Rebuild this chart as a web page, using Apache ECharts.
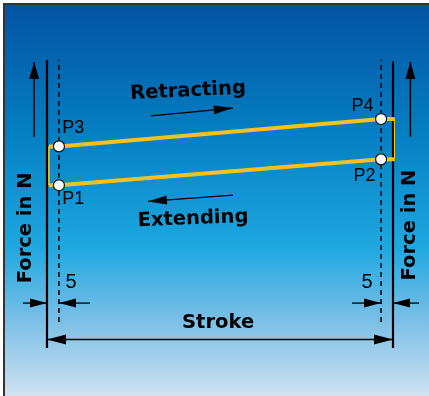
<!DOCTYPE html>
<html>
<head>
<meta charset="utf-8">
<script src="https://cdn.jsdelivr.net/npm/echarts@6/dist/echarts.min.js"></script>
<style>
  html, body { margin: 0; padding: 0; background: #fff; }
  #main { width: 429px; height: 396px; }
</style>
</head>
<body>
<div id="main"></div>
<script>
// switching points of the cycle (stroke position, force)
const pointNames = ["P1", "P2", "P3", "P4"];
const pointStroke = [5, 140, 5, 140];
const pointForce = [56.5, 65.5, 70, 79.5];
const strokeRange = [0, 145];
const forceRange = [0, 100];
const dimLabels = ["5", "5"];
const textLabels = { retract: "Retracting", extend: "Extending", stroke: "Stroke", force: "Force in N" };

const chart = echarts.init(document.getElementById("main"));

// small offsets so the yellow loop closes just outside the points
const stubL = strokeRange[0] + 0.8;
const stubR = strokeRange[1] + 0.7;
const yellow = "#f5c11e";

// label offsets (px) for P1..P4
const labelOffsets = [[15, 14], [-16, 17], [15, -18], [-18, -12]];

const points = pointNames.map(function (n, i) {
  return {
    name: n,
    value: [pointStroke[i], pointForce[i]],
    label: { position: [5.5 + labelOffsets[i][0], 5.5 + labelOffsets[i][1]] },
  };
});

chart.setOption({
  animation: false,
  backgroundColor: "#fff",
  grid: { left: 47, right: 36, top: 60, bottom: 48 },
  xAxis: { type: "value", min: strokeRange[0], max: strokeRange[1], show: false },
  yAxis: { type: "value", min: forceRange[0], max: forceRange[1], show: false },
  series: [
    {
      name: "Extending",
      type: "line",
      showSymbol: false,
      z: 3,
      lineStyle: { color: yellow, width: 4 },
      data: [[stubL, pointForce[0]], [pointStroke[0], pointForce[0]], [pointStroke[1], pointForce[1]], [stubR, pointForce[1]]],
    },
    {
      name: "Retracting",
      type: "line",
      showSymbol: false,
      z: 3,
      lineStyle: { color: yellow, width: 4 },
      data: [[stubL, pointForce[2]], [pointStroke[2], pointForce[2]], [pointStroke[3], pointForce[3]], [stubR, pointForce[3]]],
    },
    {
      name: "left",
      type: "line",
      showSymbol: false,
      z: 3,
      lineStyle: { color: yellow, width: 1.6 },
      data: [[stubL, pointForce[0]], [stubL, pointForce[2]]],
    },
    {
      name: "right",
      type: "line",
      showSymbol: false,
      z: 3,
      lineStyle: { color: yellow, width: 1.6 },
      data: [[stubR, pointForce[1]], [stubR, pointForce[3]]],
    },
    {
      name: "points",
      type: "scatter",
      z: 5,
      symbolSize: 11,
      itemStyle: { color: "#fff", borderColor: "#111", borderWidth: 1.2, opacity: 1 },
      label: {
        show: true,
        formatter: "{b}",
        color: "#000",
        fontSize: 18,
        fontFamily: "Liberation Sans",
        align: "center",
        verticalAlign: "middle",
      },
      data: points,
    },
  ],
});

function px(x, y) {
  return chart.convertToPixel({ gridIndex: 0 }, [x, y]);
}

function head(tip, from, len, hw) {
  const dx = tip[0] - from[0], dy = tip[1] - from[1];
  const d = Math.sqrt(dx * dx + dy * dy);
  const ux = dx / d, uy = dy / d;
  const bx = tip[0] - ux * len, by = tip[1] - uy * len;
  return {
    type: "polygon",
    shape: { points: [tip, [bx - uy * hw, by + ux * hw], [bx + uy * hw, by - ux * hw]] },
    style: { fill: "#000" },
  };
}

function arrow(a, b, len, hw, lw, both) {
  const p1 = px(a[0], a[1]), p2 = px(b[0], b[1]);
  const out = [
    { type: "line", shape: { x1: p1[0], y1: p1[1], x2: p2[0], y2: p2[1] }, style: { stroke: "#000", lineWidth: lw } },
    head(p2, p1, len, hw),
  ];
  if (both) out.push(head(p1, p2, len, hw));
  return out;
}

function vline(x, y0, y1, lw, dash) {
  const a = px(x, y0), b = px(x, y1);
  return {
    type: "line",
    shape: { x1: a[0], y1: a[1], x2: b[0], y2: b[1] },
    style: { stroke: "#000", lineWidth: lw, lineDash: dash || null },
  };
}

function text(str, x, y, font, rot) {
  const p = px(x, y);
  return {
    type: "text",
    x: p[0],
    y: p[1],
    rotation: rot || 0,
    style: {
      text: str,
      font: font,
      fill: "#000",
      align: "center",
      verticalAlign: "middle",
      textAlign: "center",
      textVerticalAlign: "middle",
    },
  };
}

const bold = 'bold 19.5px "DejaVu Sans"';
const thin = '20px "Liberation Sans"';

let g = [
  {
    type: "rect",
    z: -10,
    shape: { x: 5, y: 5, width: 424, height: 391 },
    style: {
      fill: new echarts.graphic.LinearGradient(0, 0, 0, 1, [
        { offset: 0, color: "#0453a3" },
        { offset: 0.33, color: "#047fc3" },
        { offset: 0.62, color: "#1ea8e0" },
        { offset: 0.8, color: "#78bee6" },
        { offset: 1, color: "#cfe2f1" },
      ]),
    },
  },
  {
    type: "polyline",
    z: -5,
    shape: { points: [[4, 396], [4, 4], [429, 4]] },
    style: { stroke: "#333", lineWidth: 2, fill: null },
  },
  vline(strokeRange[0], 0, 100, 2.2),
  vline(strokeRange[1], 0, 99.6, 2.2),
  vline(pointStroke[0], 9, 100, 1.5, [5, 4]),
  vline(pointStroke[1], 9, 100, 1.5, [5, 4]),
];

g = g.concat(
  arrow([-5.4, 73.3], [-5.4, 99.3], 17, 5, 1.4),
  arrow([152.3, 73.3], [152.3, 99.3], 17, 5, 1.4),
  arrow([43.6, 80.6], [77.9, 83.3], 19, 4.5, 1.3),
  arrow([77.9, 53.1], [42.3, 50.9], 19, 4.5, 1.3),
  arrow([-10.1, 15.6], [0, 15.6], 17, 4.5, 1.3),
  arrow([18, 15.6], [5, 15.6], 17, 4.5, 1.3),
  arrow([127.8, 15.6], [140, 15.6], 17, 4.5, 1.3),
  arrow([155.9, 15.6], [145, 15.6], 17, 4.5, 1.3),
  arrow([0, 2.95], [145, 2.95], 19, 5, 1.3, true),
  [
    text(textLabels.retract, 59.1, 89.2, bold, 0.05),
    text(textLabels.extend, 61.2, 44.8, bold, 0.04),
    text(textLabels.stroke, 71.7, 8.7, bold),
    text(textLabels.force, -8.8, 41.7, bold, Math.PI / 2),
    text(textLabels.force, 152.1, 42.7, bold, Math.PI / 2),
    text(dimLabels[0], 10.1, 22.6, thin),
    text(dimLabels[1], 134.1, 22.6, thin),
  ]
);

chart.setOption({ graphic: { elements: g } });
window.onresize = function () {
  chart.resize();
};
</script>
</body>
</html>
